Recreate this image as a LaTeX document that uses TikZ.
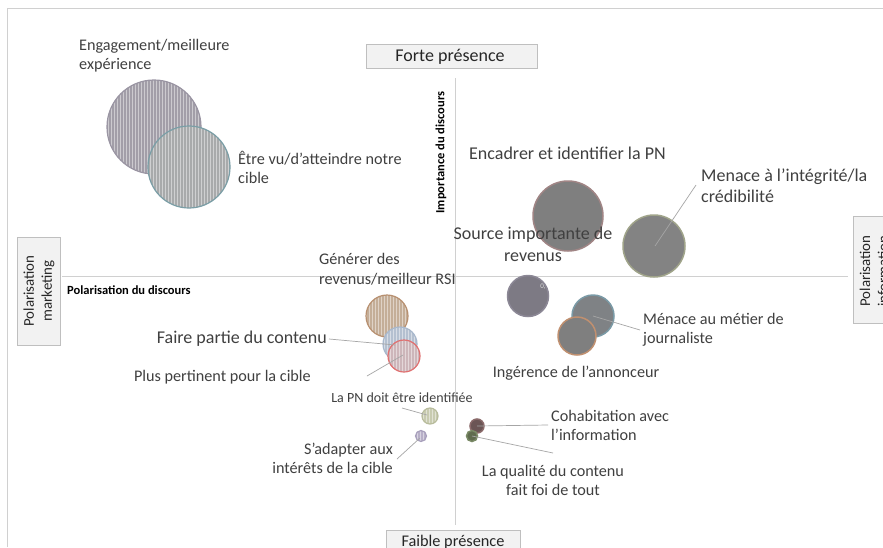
\documentclass[tikz,border=0pt]{standalone}
\usepackage{fontspec}
\setmainfont{Carlito}
\usetikzlibrary{patterns}
\definecolor{lbl}{HTML}{404040}
\definecolor{axisc}{HTML}{D0D0D0}
\definecolor{leader}{HTML}{A6A6A6}
\definecolor{boxfill}{HTML}{F2F2F2}
\definecolor{boxdraw}{HTML}{BFBFBF}
\definecolor{f1}{HTML}{A29EA8}\definecolor{d1}{HTML}{9A95A3}
\definecolor{f2}{HTML}{A8AAAB}\definecolor{d2}{HTML}{7A9EA6}
\definecolor{f10}{HTML}{C4AE98}\definecolor{d10}{HTML}{B89070}
\definecolor{f11}{HTML}{B4C0D0}\definecolor{d11}{HTML}{A8B8CC}
\definecolor{f12}{HTML}{CDB6BA}\definecolor{d12}{HTML}{E07070}
\definecolor{f13}{HTML}{C8CBB0}\definecolor{d13}{HTML}{B8BC9C}
\definecolor{f14}{HTML}{B8B0C8}\definecolor{d14}{HTML}{A8A0BC}
\definecolor{f3}{HTML}{7F7F7F}\definecolor{d3}{HTML}{A08585}
\definecolor{f4}{HTML}{838383}\definecolor{d4}{HTML}{A0A48A}
\definecolor{f5}{HTML}{7D7A84}\definecolor{d5}{HTML}{8C8896}
\definecolor{f6}{HTML}{7F8285}\definecolor{d6}{HTML}{7A9AA6}
\definecolor{f7}{HTML}{7F7F7F}\definecolor{d7}{HTML}{C09070}
\definecolor{f8}{HTML}{6B5555}\definecolor{d8}{HTML}{8A6A6A}
\definecolor{f9}{HTML}{5F6B4E}\definecolor{d9}{HTML}{7A8A66}
\tikzset{
  lab/.style={text=lbl, inner sep=0, font=\fontsize{16.2}{19.5}\selectfont},
  bigl/.style={text=lbl, inner sep=0, font=\fontsize{18}{21.5}\selectfont},
  smalll/.style={text=lbl, inner sep=0, font=\fontsize{14}{16}\selectfont},
  axlab/.style={text=black, inner sep=0, font=\fontsize{12.5}{14}\bfseries},
  boxtxt/.style={text=black!85, inner sep=0, font=\fontsize{18}{20}\selectfont},
  frame/.style={draw=boxdraw, fill=boxfill, line width=0.8},
  lead/.style={draw=leader, line width=0.7},
  bub/.style={circle, inner sep=0, minimum size=#1},
  striped/.style n args={2}{preaction={fill=#1}, pattern=vertical lines, pattern color=#1!55!white, draw=#2, line width=1.2},
  solid/.style n args={2}{fill=#1, draw=#2, line width=1.5},
}
\begin{document}
\begin{tikzpicture}[x=1pt,y=-1pt]
\useasboundingbox (0,0) rectangle (883,547);
\fill[white] (0,0) rectangle (883,547);
% outer frame
\draw[axisc, line width=0.8] (7.5,547) -- (7.5,8) -- (883,8);
% axes
\draw[axisc, line width=1] (62,276) -- (848,276);
\draw[axisc, line width=1] (455,78) -- (455,525);
% boxes
\draw[frame] (366,44) rectangle (537,68);
\node[boxtxt] (forte) at (450,56.5) {Forte présence};
\draw[frame] (386,530) rectangle (520,560);
\node[boxtxt, font=\fontsize{16.3}{18}\selectfont] (faible) at (453,542) {Faible présence};
\draw[frame] (17,237) rectangle (60,345);
\node[boxtxt, rotate=90, align=center, font=\fontsize{14.9}{18}\selectfont] (pmk) at (39,291) {Polarisation\\marketing};
\draw[frame] (853,216) rectangle (900,323);
\node[boxtxt, rotate=90, align=center, font=\fontsize{14.9}{18}\selectfont] (pinf) at (874,271) {Polarisation\\information};
% axis labels
\node[axlab, anchor=west] (pdisc) at (67,290) {Polarisation du discours};
\node[axlab, rotate=90] (idisc) at (441,152.5) {Importance du discours};

% bubbles left top
\node[bub=94, striped={f1}{d1}] (b1) at (154,127) {};
\node[bub=82, striped={f2}{d2}] (b2) at (189,167) {};
% middle left cluster
\node[bub=42, striped={f10}{d10}] (b10) at (387,316) {};
\node[bub=34, striped={f11}{d11}] (b11) at (400,344) {};
\node[bub=32, striped={f12}{d12}] (b12) at (404,356) {};
\node[bub=16, striped={f13}{d13}] (b13) at (430,416) {};
\node[bub=11, striped={f14}{d14}] (b14) at (421,436) {};
% right bubbles
\node[bub=70, solid={f3}{d3}] (b3) at (568,216) {};
\node[bub=62, solid={f4}{d4}] (b4) at (654,246) {};
\node[bub=41, solid={f5}{d5}] (b5) at (528,296) {};
\node[bub=42, solid={f6}{d6}] (b6) at (593,316) {};
\node[bub=38, solid={f7}{d7}] (b7) at (577,336) {};
\node[bub=14, solid={f8}{d8}] (b8) at (477,426) {};
\node[bub=11, solid={f9}{d9}] (b9) at (472,436) {};
\node[text=white!75!gray, inner sep=0, font=\fontsize{7}{8}\selectfont] (zero) at (543,287) {0,};

% labels
\node[lab, anchor=west, align=left] (l1) at (79,55.5) {Engagement/meilleure\\expérience};
\node[lab, anchor=west, align=left] (l2) at (238,167.5) {Être vu/d'atteindre notre\\cible};
\node[bigl, anchor=west] (l3) at (469,153) {Encadrer et identifier la PN};
\node[bigl, anchor=west, align=left] (l4) at (701,185.5) {Menace à l'intégrité/la\\crédibilité};
\node[bigl, align=center, font=\fontsize{18}{22}\selectfont] (l5) at (533,244) {Source importante de\\revenus};
\node[lab, anchor=west, align=left] (l6) at (643,330) {Ménace au métier de\\journaliste};
\node[lab] (l7) at (576,373) {Ingérence de l'annonceur};
\node[lab, anchor=west, align=left] (l8) at (551,425.5) {Cohabitation avec\\l'information};
\node[lab, align=center] (l9) at (553,480.5) {La qualité du contenu\\fait foi de tout};
\node[lab, anchor=west, align=left] (l10) at (319,269) {Générer des\\revenus/meilleur RSI};
\node[bigl, anchor=east] (l11) at (327,339) {Faire partie du contenu};
\node[lab, anchor=east] (l12) at (311,377) {Plus pertinent pour la cible};
\node[smalll] (l13) at (402,398) {La PN doit être identifiée};
\node[lab, anchor=east, align=right] (l14) at (393,458.5) {S'adapter aux\\intérêts de la cible};

% leader lines
\coordinate (c4a) at (696,185);
\coordinate (c4b) at (655,246);
\draw[lead] (c4a) -- (c4b);
\coordinate (c6a) at (640,330);
\coordinate (c6b) at (593,316);
\draw[lead] (c6a) -- (c6b);
\coordinate (c8a) at (548,425);
\draw[lead] (c8a) -- (b8.center);
\coordinate (c9a) at (553,453);
\draw[lead] (c9a) -- (b9.center);
\coordinate (c11a) at (329,339);
\coordinate (c11b) at (395,345);
\draw[lead] (c11a) -- (c11b);
\coordinate (c12a) at (367,376);
\coordinate (c12b) at (403,355);
\draw[lead] (c12a) -- (c12b);
\coordinate (c13a) at (402,408);
\coordinate (c13b) at (427,415);
\draw[lead] (c13a) -- (c13b);
\coordinate (c14a) at (397,459);
\coordinate (c14b) at (420,438);
\draw[lead] (c14a) -- (c14b);
\end{tikzpicture}
\end{document}
